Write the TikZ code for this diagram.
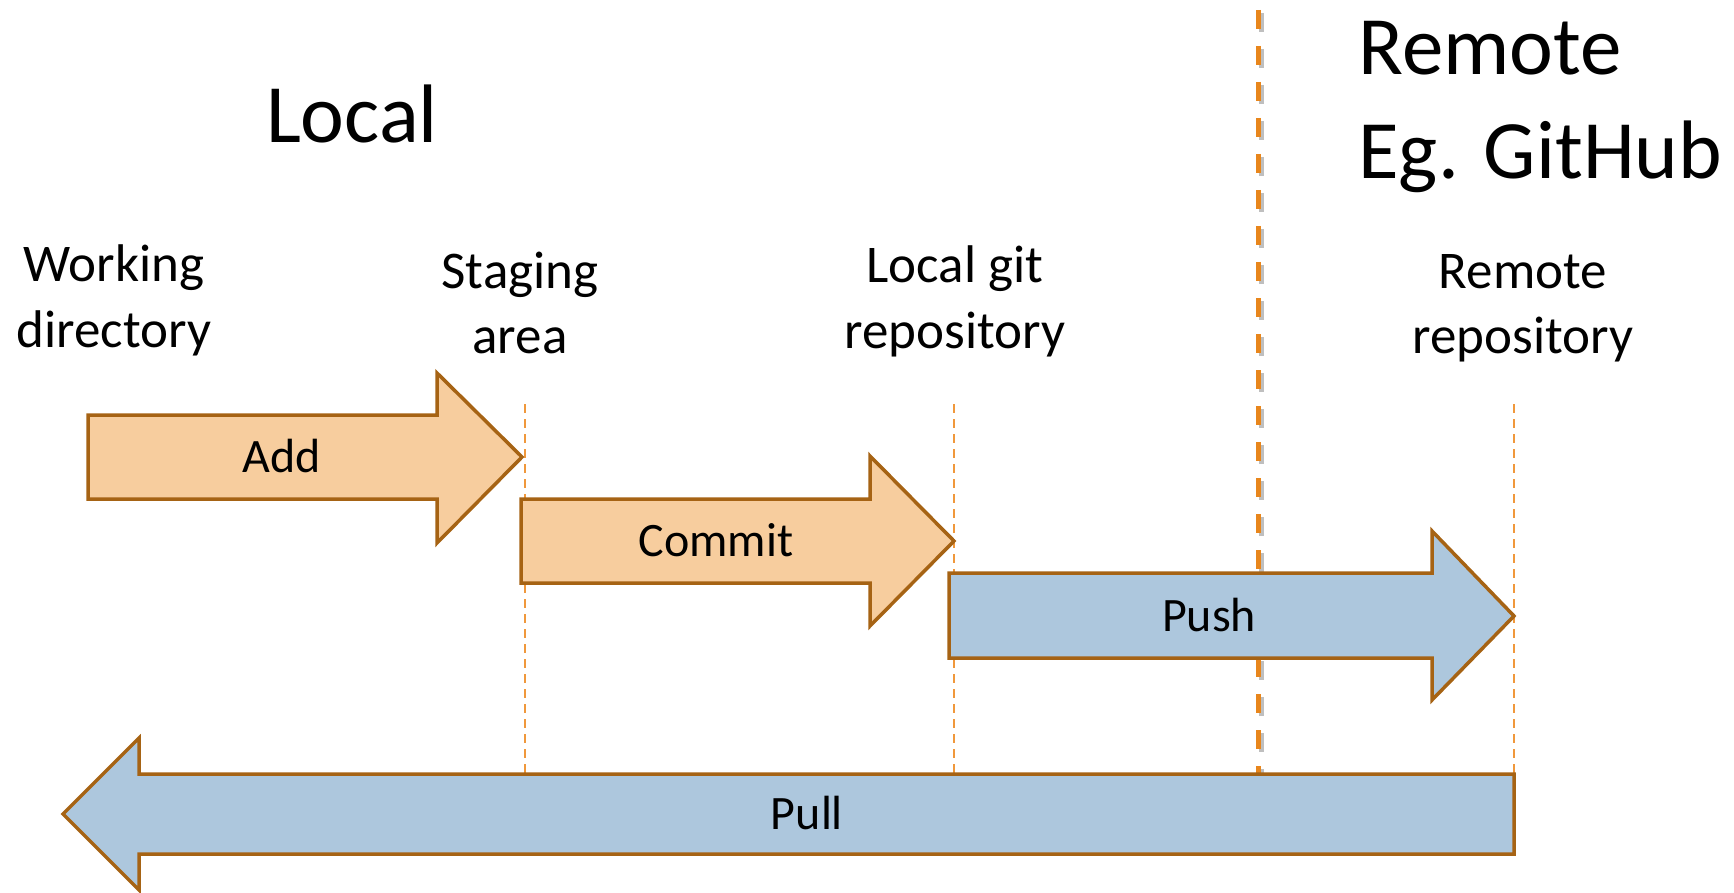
\documentclass[tikz,border=0pt]{standalone}
\usepackage{fontspec}
\setmainfont{Carlito}
\usetikzlibrary{positioning}

\definecolor{arrowline}{RGB}{166,99,20}
\definecolor{localfill}{RGB}{247,205,158}
\definecolor{remotefill}{RGB}{173,199,221}
\definecolor{guideline}{RGB}{240,152,60}
\definecolor{borderline}{RGB}{232,134,28}

\begin{document}
\begin{tikzpicture}[x=0.5pt,y=-0.5pt,
	flowarrow/.style={
		% The border:
		draw=arrowline,
		line width=1.75pt,
		line join=miter
		},
	localarrow/.style={flowarrow, fill=localfill},
	remotearrow/.style={flowarrow, fill=remotefill},
	guide/.style={
		draw=guideline,
		line width=1.25pt,
		dash pattern=on 4.5pt off 3pt
		},
	arrowlabel/.style={anchor=base, inner sep=0pt, font=\fontsize{24}{28}\selectfont},
	placelabel/.style={anchor=base, inner sep=0pt, align=center,
		font=\fontsize{26.5}{32.5}\selectfont},
	sidelabel/.style={inner sep=0pt, font=\fontsize{41.5}{52}\selectfont}
	]

	\useasboundingbox (0,0) rectangle (1734,893);

	% titles
	\node (local) [sidelabel, anchor=base] at (352,143) {Local};
	\node (remote) [sidelabel, anchor=base west, align=left] at (1358,179) {Remote\\Eg. GitHub};

	% places
	\node (workdir) [placelabel] at (114,347) {Working\\directory};
	\node (staging) [placelabel] at (520,353) {Staging\\area};
	\node (localrepo) [placelabel] at (955,348) {Local git\\repository};
	\node (remoterepo) [placelabel] at (1523,353) {Remote\\repository};

	% guide lines (behind the arrows)
	\coordinate (stagetop) at (525,404);
	\coordinate (stagebot) at (525,774);
	\coordinate (repotop) at (954,404);
	\coordinate (repobot) at (954,774);
	\coordinate (remotetop) at (1514,404);
	\coordinate (remotebot) at (1514,774);
	\draw[guide] (stagetop) -- (stagebot);
	\draw[guide] (repotop) -- (repobot);
	\draw[guide] (remotetop) -- (remotebot);

	% local / remote border with its shadow
	\coordinate (bordertop) at (1258,10);
	\coordinate (borderbot) at (1258,774);
	\draw[gray, opacity=0.5, line width=2.5pt, dash pattern=on 9.5pt off 8.5pt]
		([shift={(3,3)}]bordertop) -- ([shift={(3,0)}]borderbot);
	\draw[borderline, line width=2.5pt, dash pattern=on 9.5pt off 8.5pt]
		(bordertop) -- (borderbot);

	% arrows
	\draw[localarrow] (88,415) -- (437,415) -- (437,373) -- (522,457)
		-- (437,543) -- (437,499) -- (88,499) -- cycle;
	\draw[localarrow] (521,499) -- (870,499) -- (870,456) -- (954,541)
		-- (870,626) -- (870,583) -- (521,583) -- cycle;
	\draw[remotearrow] (949,573) -- (1432,573) -- (1432,531) -- (1514,616)
		-- (1432,700) -- (1432,658) -- (949,658) -- cycle;
	\draw[remotearrow] (1514,774) -- (139,774) -- (139,738) -- (63,814)
		-- (139,890) -- (139,854) -- (1514,854) -- cycle;

	\node (add) [arrowlabel] at (282,472.5) {Add};
	\node (commit) [arrowlabel] at (716,556.5) {Commit};
	\node (push) [arrowlabel] at (1209,631.5) {Push};
	\node (pull) [arrowlabel] at (807,829.5) {Pull};

\end{tikzpicture}
\end{document}
